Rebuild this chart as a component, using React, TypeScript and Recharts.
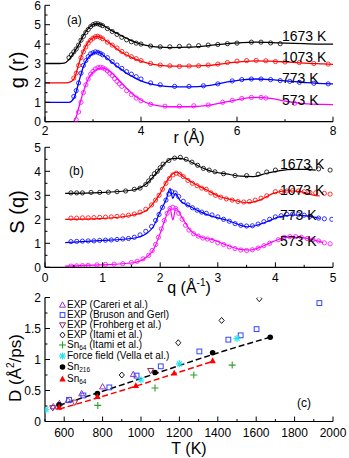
import React from 'react';
import { ComposedChart, Line, Scatter, XAxis, YAxis } from 'recharts';

type Pt = [number, number];

const FONT = '"Liberation Sans", Arial, Helvetica, sans-serif';
const BLACK = '#000000';
const RED = '#ff0000';
const BLUE = '#0000ff';
const MAGENTA = '#ff00ff';

// ---------- panel (a): g(r) ----------
const rLine = [2.0, 2.3, 2.4, 2.5, 2.6, 2.65, 2.7, 2.8, 2.9, 3.0, 3.1, 3.2, 3.3, 3.4, 3.5, 3.6, 3.7, 3.8, 4.0, 4.2, 4.4, 4.6, 5.0, 5.4, 5.8, 6.1, 6.4, 6.7, 7.0, 7.4, 7.8, 8.0];
const g1673 = [3.0, 3.0, 3.02, 3.2, 3.55, 3.75, 3.95, 4.45, 4.8, 5.0, 5.05, 4.98, 4.83, 4.68, 4.55, 4.42, 4.3, 4.18, 4.0, 3.9, 3.84, 3.82, 3.84, 3.92, 4.02, 4.08, 4.1, 4.08, 4.05, 4.02, 4.0, 4.0];
const g1073 = [2.0, 2.0, 2.0, 2.03, 2.2, 2.5, 2.95, 3.65, 4.1, 4.33, 4.4, 4.3, 4.12, 3.95, 3.75, 3.58, 3.44, 3.32, 3.12, 2.98, 2.9, 2.86, 2.86, 2.9, 3.02, 3.1, 3.14, 3.12, 3.08, 3.02, 2.98, 2.96];
const g773 = [1.0, 1.0, 1.0, 1.0, 1.2, 1.55, 2.0, 2.85, 3.3, 3.52, 3.6, 3.45, 3.25, 3.05, 2.85, 2.68, 2.5, 2.36, 2.1, 1.95, 1.86, 1.81, 1.79, 1.86, 2.05, 2.16, 2.2, 2.17, 2.1, 2.02, 1.96, 1.95];
const g573 = [null, null, null, null, 0.0, 0.25, 0.7, 1.55, 2.2, 2.55, 2.72, 2.77, 2.68, 2.5, 2.25, 1.98, 1.72, 1.48, 1.12, 0.9, 0.8, 0.77, 0.77, 0.84, 1.03, 1.18, 1.25, 1.2, 1.06, 0.93, 0.89, 0.88];

const gExp1673: Pt[] = [[2.5, 3.3], [2.55, 3.45], [2.6, 3.6], [2.65, 3.75], [2.7, 3.95], [2.75, 4.2], [2.8, 4.4], [2.85, 4.6], [2.9, 4.75], [2.95, 4.9], [3.0, 5.0], [3.05, 5.05], [3.1, 5.05], [3.15, 5.0], [3.2, 4.95], [3.3, 4.8], [3.4, 4.65], [3.5, 4.5], [3.6, 4.35], [3.7, 4.22], [3.8, 4.12], [3.9, 4.05], [4.0, 4.0], [4.2, 3.9], [4.4, 3.86], [4.6, 3.86], [4.8, 3.88], [5.0, 3.9], [5.2, 3.92], [5.4, 3.95], [5.6, 3.98], [5.8, 4.02], [6.0, 4.05], [6.3, 4.1], [6.5, 4.1], [6.7, 4.06], [6.9, 4.02]];
const gExp1073: Pt[] = [[2.6, 2.25], [2.65, 2.5], [2.7, 2.9], [2.75, 3.3], [2.8, 3.6], [2.85, 3.85], [2.9, 4.05], [2.95, 4.2], [3.0, 4.3], [3.05, 4.38], [3.1, 4.4], [3.15, 4.35], [3.2, 4.28], [3.3, 4.1], [3.4, 3.95], [3.5, 3.8], [3.6, 3.62], [3.7, 3.48], [3.8, 3.35], [3.9, 3.25], [4.0, 3.15], [4.2, 3.0], [4.4, 2.92], [4.6, 2.88], [4.8, 2.85], [5.0, 2.87], [5.2, 2.88], [5.4, 2.92], [5.6, 2.97], [5.8, 3.05], [6.0, 3.12], [6.2, 3.15], [6.4, 3.16], [6.6, 3.14], [6.8, 3.1], [7.0, 3.08], [7.3, 3.05], [7.6, 3.0], [7.9, 2.97]];
const gExp773: Pt[] = [[2.6, 1.3], [2.65, 1.6], [2.7, 2.0], [2.75, 2.5], [2.8, 2.9], [2.85, 3.15], [2.9, 3.35], [2.95, 3.5], [3.0, 3.55], [3.05, 3.6], [3.1, 3.58], [3.15, 3.52], [3.2, 3.45], [3.3, 3.3], [3.4, 3.1], [3.5, 2.92], [3.6, 2.75], [3.7, 2.58], [3.8, 2.45], [3.9, 2.32], [4.0, 2.2], [4.2, 2.0], [4.4, 1.9], [4.7, 1.82], [5.0, 1.82], [5.3, 1.85], [5.6, 1.95], [5.9, 2.1], [6.1, 2.17], [6.3, 2.2], [6.5, 2.2], [6.7, 2.17], [6.9, 2.12], [7.1, 2.08], [7.3, 2.03], [7.6, 1.98], [7.9, 1.95]];
const gExp573: Pt[] = [[2.65, 0.1], [2.7, 0.5], [2.75, 1.0], [2.8, 1.5], [2.85, 1.9], [2.9, 2.2], [2.95, 2.45], [3.0, 2.6], [3.05, 2.72], [3.1, 2.78], [3.15, 2.8], [3.2, 2.78], [3.25, 2.72], [3.3, 2.62], [3.35, 2.5], [3.4, 2.38], [3.45, 2.22], [3.5, 2.08], [3.55, 1.95], [3.6, 1.82], [3.7, 1.6], [3.8, 1.4], [3.9, 1.22], [4.0, 1.08], [4.2, 0.9], [4.5, 0.8], [4.8, 0.8], [5.1, 0.82], [5.4, 0.86], [5.7, 1.0], [5.9, 1.1], [6.1, 1.2], [6.3, 1.25], [6.5, 1.25], [6.6, 1.22], [7.2, 0.95]];

// ---------- panel (b): S(q) ----------
const sLine1673: Pt[] = [[0.35, 3.08], [0.95, 3.11], [1.53, 3.22], [1.77, 3.5], [1.88, 3.78], [2.0, 4.12], [2.11, 4.4], [2.23, 4.54], [2.34, 4.54], [2.46, 4.47], [2.69, 4.19], [2.92, 3.98], [3.15, 3.89], [3.39, 3.8], [3.62, 3.78], [3.85, 3.92], [4.08, 4.03], [4.31, 4.08], [4.54, 4.08], [4.7, 4.05]];
const sLine1073: Pt[] = [[0.35, 2.0], [0.95, 2.03], [1.53, 2.18], [1.77, 2.39], [1.88, 2.67], [2.0, 3.08], [2.11, 3.57], [2.23, 3.92], [2.29, 3.96], [2.4, 3.78], [2.58, 3.5], [2.81, 3.22], [3.04, 2.94], [3.27, 2.8], [3.5, 2.69], [3.73, 2.8], [3.96, 3.08], [4.2, 3.19], [4.43, 3.15], [4.66, 3.01], [4.77, 2.97]];
const sLine773: Pt[] = [[0.35, 1.03], [0.95, 1.11], [1.53, 1.21], [1.77, 1.42], [1.88, 1.69], [2.0, 2.32], [2.11, 2.87], [2.17, 3.29], [2.22, 2.87], [2.26, 3.08], [2.34, 2.8], [2.52, 2.53], [2.69, 2.32], [2.92, 2.11], [3.15, 1.97], [3.39, 1.76], [3.5, 1.69], [3.62, 1.72], [3.85, 1.9], [4.08, 2.11], [4.31, 2.18], [4.54, 2.14], [4.77, 2.04]];
const sLine573: Pt[] = [[0.35, 0.05], [0.95, 0.1], [1.53, 0.19], [1.77, 0.44], [1.88, 0.72], [2.0, 1.42], [2.08, 1.97], [2.17, 2.46], [2.22, 1.97], [2.27, 2.46], [2.37, 2.11], [2.52, 1.55], [2.69, 1.28], [2.92, 1.14], [3.15, 0.93], [3.39, 0.75], [3.56, 0.72], [3.73, 0.83], [3.96, 1.07], [4.2, 1.25], [4.43, 1.25], [4.66, 1.14], [4.83, 1.03]];

const sExp1673: Pt[] = [[0.45, 3.1], [0.55, 3.1], [0.65, 3.1], [0.8, 3.12], [0.95, 3.12], [1.1, 3.13], [1.25, 3.15], [1.4, 3.18], [1.55, 3.25], [1.65, 3.3], [1.75, 3.45], [1.8, 3.6], [1.85, 3.75], [1.9, 3.9], [1.95, 4.0], [2.0, 4.15], [2.05, 4.3], [2.15, 4.45], [2.25, 4.55], [2.35, 4.58], [2.45, 4.5], [2.55, 4.38], [2.65, 4.25], [2.75, 4.12], [2.85, 4.05], [2.95, 3.98], [3.1, 3.9], [3.3, 3.82], [3.5, 3.82], [3.7, 3.88], [3.85, 3.97], [4.0, 4.05], [4.6, 4.12], [4.75, 4.1], [4.95, 4.05]];
const sExp1073: Pt[] = [[0.45, 2.05], [0.55, 2.05], [0.65, 2.06], [0.75, 2.06], [0.85, 2.07], [0.95, 2.08], [1.05, 2.09], [1.15, 2.1], [1.25, 2.12], [1.35, 2.14], [1.45, 2.17], [1.55, 2.22], [1.65, 2.3], [1.75, 2.42], [1.85, 2.6], [1.92, 2.8], [1.98, 3.0], [2.04, 3.25], [2.1, 3.5], [2.16, 3.7], [2.22, 3.85], [2.28, 3.92], [2.34, 3.88], [2.4, 3.78], [2.48, 3.62], [2.56, 3.5], [2.64, 3.4], [2.72, 3.3], [2.8, 3.25], [2.88, 3.1], [2.96, 3.0], [3.05, 2.92], [3.15, 2.85], [3.25, 2.8], [3.35, 2.74], [3.45, 2.72], [3.55, 2.74], [3.65, 2.8], [3.75, 2.88], [3.85, 2.98], [4.0, 3.15], [4.1, 3.15], [4.2, 3.18], [4.3, 3.2], [4.4, 3.18], [4.5, 3.15], [4.6, 3.12], [4.7, 3.1], [4.85, 3.08], [4.95, 3.05]];
const sExp773: Pt[] = [[0.45, 1.07], [0.55, 1.08], [0.65, 1.09], [0.75, 1.1], [0.85, 1.1], [0.95, 1.12], [1.05, 1.13], [1.15, 1.14], [1.25, 1.16], [1.35, 1.18], [1.45, 1.2], [1.55, 1.25], [1.65, 1.35], [1.75, 1.5], [1.85, 1.7], [1.92, 1.95], [1.98, 2.2], [2.04, 2.5], [2.1, 2.8], [2.15, 3.05], [2.2, 3.15], [2.26, 3.1], [2.32, 2.95], [2.4, 2.75], [2.48, 2.6], [2.56, 2.48], [2.64, 2.38], [2.72, 2.3], [2.8, 2.25], [2.9, 2.18], [3.0, 2.1], [3.1, 2.0], [3.2, 1.92], [3.3, 1.82], [3.4, 1.75], [3.5, 1.72], [3.6, 1.73], [3.7, 1.8], [3.8, 1.9], [3.9, 2.0], [4.0, 2.1], [4.1, 2.15], [4.2, 2.2], [4.3, 2.22], [4.4, 2.2], [4.5, 2.17], [4.6, 2.12], [4.75, 2.05], [4.85, 2.02], [4.98, 2.0]];
const sExp573: Pt[] = [[0.45, 0.05], [0.55, 0.06], [0.65, 0.07], [0.75, 0.08], [0.9, 0.1], [1.05, 0.12], [1.2, 0.13], [1.35, 0.15], [1.5, 0.2], [1.6, 0.25], [1.7, 0.35], [1.8, 0.5], [1.86, 0.7], [1.92, 0.95], [1.97, 1.25], [2.02, 1.6], [2.07, 1.95], [2.12, 2.25], [2.17, 2.45], [2.22, 2.5], [2.27, 2.45], [2.32, 2.25], [2.38, 2.0], [2.44, 1.75], [2.5, 1.55], [2.58, 1.4], [2.66, 1.3], [2.74, 1.22], [2.82, 1.18], [2.9, 1.12], [3.0, 1.02], [3.1, 0.95], [3.2, 0.85], [3.3, 0.78], [3.4, 0.72], [3.5, 0.7], [3.6, 0.73], [3.7, 0.8], [3.8, 0.9], [3.9, 1.0], [4.05, 1.15], [4.15, 1.25], [4.25, 1.28], [4.35, 1.28], [4.45, 1.25], [4.55, 1.2], [4.65, 1.15], [4.75, 1.1], [4.85, 1.02], [4.95, 0.98]];

// ---------- panel (c): D(T) ----------
const careri: Pt[] = [[543, 0.24], [575, 0.29], [620, 0.34], [691, 0.45], [800, 0.56], [960, 0.76]];
const bruson: Pt[] = [[625, 0.35], [700, 0.42], [835, 0.55], [977, 0.74], [1103, 0.89], [1304, 1.13], [1455, 1.32], [1519, 1.39], [1602, 1.49], [1929, 1.91]];
const frohberg: Pt[] = [[540, 0.22], [655, 0.31], [1050, 0.82]];
const itamiExp: Pt[] = [[900, 0.75], [1194, 1.27], [1420, 1.63], [1616, 1.98]];
const sn64Itami: Pt[] = [[775, 0.26], [1073, 0.54], [1275, 0.75], [1475, 0.91]];
const forceField: Pt[] = [[505, 0.19], [1000, 0.67], [1200, 0.93], [1500, 1.34]];
const sn216: Pt[] = [[573, 0.27], [773, 0.45], [1073, 0.79], [1373, 1.11], [1673, 1.36]];
const sn64: Pt[] = [[573, 0.23], [773, 0.4], [973, 0.58], [1173, 0.78], [1373, 0.98]];
const sn216Fit: Pt[] = [[573, 0.26], [773, 0.46], [1073, 0.77], [1373, 1.08], [1673, 1.36]];
const sn64Fit: Pt[] = [[573, 0.2], [773, 0.38], [973, 0.57], [1173, 0.77], [1373, 0.97]];

const ticksA_x = [2, 3, 4, 5, 6, 7, 8];
const labelsA_x = [2, 4, 6, 8];
const ticksA_y = [0, 0.5, 1, 1.5, 2, 2.5, 3, 3.5, 4, 4.5, 5, 5.5, 6];
const labelsA_y = [0, 1, 2, 3, 4, 5, 6];
const ticksB_x = [0, 0.5, 1, 1.5, 2, 2.5, 3, 3.5, 4, 4.5, 5];
const labelsB_x = [0, 1, 2, 3, 4, 5];
const ticksB_y = [0, 0.5, 1, 1.5, 2, 2.5, 3, 3.5, 4, 4.5, 5];
const labelsB_y = [0, 1, 2, 3, 4, 5];
const ticksC_x = [500, 600, 700, 800, 900, 1000, 1100, 1200, 1300, 1400, 1500, 1600, 1700, 1800, 1900, 2000];
const labelsC_x = [600, 800, 1000, 1200, 1400, 1600, 1800, 2000];
const ticksC_y = [0, 0.25, 0.5, 0.75, 1, 1.25, 1.5, 1.75, 2];
const labelsC_y = [0, 0.5, 1, 1.5, 2];

const rows = (pts: Pt[]) => pts.map(([x, y]) => ({ x, y }));
const zipRows = (xs: number[], ys: (number | null)[]) => xs.map((x, i) => ({ x, y: ys[i] }));
const has = (list: number[], v: number) => list.some((l) => Math.abs(l - v) < 1e-9);

type Side = 'bottom' | 'top' | 'left' | 'right';
const makeTick = (side: Side, labels: number[], showText: boolean, gap = 14) => (props: any) => {
  const { x, y, payload } = props;
  const v = payload.value as number;
  const major = has(labels, v);
  const len = major ? 5 : 2.5;
  let line;
  if (side === 'bottom') line = <line x1={x} x2={x} y1={y} y2={y - len} />;
  else if (side === 'top') line = <line x1={x} x2={x} y1={y} y2={y + len} />;
  else if (side === 'left') line = <line x1={x} x2={x + len} y1={y} y2={y} />;
  else line = <line x1={x} x2={x - len} y1={y} y2={y} />;
  return (
    <g stroke={BLACK} strokeWidth={1}>
      {line}
      {showText && major && side === 'bottom' && (
        <text x={x} y={y + gap} textAnchor="middle" fontSize={12} fontFamily={FONT} fill={BLACK} stroke="none">
          {String(v)}
        </text>
      )}
      {showText && major && side === 'left' && (
        <text x={x - 4} y={y + 4.5} textAnchor="end" fontSize={12} fontFamily={FONT} fill={BLACK} stroke="none">
          {String(v)}
        </text>
      )}
    </g>
  );
};

const openCircle = (color: string) => (p: any) => (
  <circle cx={p.cx} cy={p.cy} r={2.1} fill="none" stroke={color} strokeWidth={0.8} />
);

const markerSvg = (kind: string, color: string, cx: number, cy: number) => {
  switch (kind) {
    case 'triUp':
      return <polygon points={`${cx},${cy - 3.2} ${cx - 3},${cy + 2.2} ${cx + 3},${cy + 2.2}`} fill="none" stroke={color} strokeWidth={1} />;
    case 'triDown':
      return <polygon points={`${cx},${cy + 3.2} ${cx - 3},${cy - 2.2} ${cx + 3},${cy - 2.2}`} fill="none" stroke={color} strokeWidth={1} />;
    case 'square':
      return <rect x={cx - 2.4} y={cy - 2.4} width={4.8} height={4.8} fill="none" stroke={color} strokeWidth={1} />;
    case 'diamond':
      return <polygon points={`${cx},${cy - 3} ${cx + 2.6},${cy} ${cx},${cy + 3} ${cx - 2.6},${cy}`} fill="none" stroke={color} strokeWidth={0.9} />;
    case 'plus':
      return (
        <g stroke={color} strokeWidth={1.1}>
          <line x1={cx - 3.5} x2={cx + 3.5} y1={cy} y2={cy} />
          <line x1={cx} x2={cx} y1={cy - 3.5} y2={cy + 3.5} />
        </g>
      );
    case 'star':
      return (
        <g stroke={color} strokeWidth={1.1}>
          <line x1={cx - 3.5} x2={cx + 3.5} y1={cy} y2={cy} />
          <line x1={cx} x2={cx} y1={cy - 3.5} y2={cy + 3.5} />
          <line x1={cx - 2.5} x2={cx + 2.5} y1={cy - 2.5} y2={cy + 2.5} />
          <line x1={cx - 2.5} x2={cx + 2.5} y1={cy + 2.5} y2={cy - 2.5} />
        </g>
      );
    case 'dot':
      return <circle cx={cx} cy={cy} r={2.8} fill={color} />;
    case 'triFill':
      return <polygon points={`${cx},${cy - 3.4} ${cx - 3.2},${cy + 2.4} ${cx + 3.2},${cy + 2.4}`} fill={color} />;
    default:
      return null;
  }
};

const shapeOf = (kind: string, color: string) => (p: any) => markerSvg(kind, color, p.cx, p.cy);

const legendItems = [
  { label: 'EXP (Careri et al.)', kind: 'triUp', color: '#9933cc', data: careri, cy: 305 },
  { label: 'EXP (Bruson and Gerl)', kind: 'square', color: '#3344ff', data: bruson, cy: 315 },
  { label: 'EXP (Frohberg et al.)', kind: 'triDown', color: '#8b2a5a', data: frohberg, cy: 325 },
  { label: 'EXP (Itami et al.)', kind: 'diamond', color: '#000000', data: itamiExp, cy: 335 },
  { label: 'Sn|64| (Itami et al.)', kind: 'plus', color: '#2ca02c', data: sn64Itami, cy: 345 },
  { label: 'Force field (Vella et al.)', kind: 'star', color: '#22e4f0', data: forceField, cy: 356 },
  { label: 'Sn|216|', kind: 'dot', color: '#000000', data: sn216, cy: 367 },
  { label: 'Sn|64|', kind: 'triFill', color: '#ff0000', data: sn64, cy: 379 },
];

interface PanelProps {
  top: number;
  height: number;
  marginTop: number;
  xAxisHeight: number;
  labelGap: number;
  xDomain: [number, number];
  xTicks: number[];
  xLabels: number[];
  yDomain: [number, number];
  yTicks: number[];
  yLabels: number[];
  children: React.ReactNode;
}

const Panel = (p: PanelProps) => (
  <div style={{ position: 'absolute', left: 0, top: p.top }}>
    <ComposedChart width={349} height={p.height} margin={{ top: p.marginTop, right: 16, bottom: 0, left: 0 }}>
      <XAxis
        xAxisId={0}
        dataKey="x"
        type="number"
        domain={p.xDomain}
        ticks={p.xTicks}
        interval={0}
        allowDataOverflow
        height={p.xAxisHeight}
        tickSize={0}
        tickMargin={0}
        tickLine={false}
        axisLine={{ stroke: BLACK, strokeWidth: 1.2 }}
        tick={makeTick('bottom', p.xLabels, true, p.labelGap)}
      />
      <XAxis
        xAxisId="top"
        orientation="top"
        type="number"
        domain={p.xDomain}
        ticks={p.xTicks}
        interval={0}
        allowDataOverflow
        height={0}
        tickSize={0}
        tickMargin={0}
        tickLine={false}
        axisLine={{ stroke: BLACK, strokeWidth: 1.2 }}
        tick={makeTick('top', p.xLabels, false)}
      />
      <YAxis
        yAxisId={0}
        dataKey="y"
        type="number"
        domain={p.yDomain}
        ticks={p.yTicks}
        interval={0}
        allowDataOverflow
        width={45}
        tickSize={0}
        tickMargin={0}
        tickLine={false}
        axisLine={{ stroke: BLACK, strokeWidth: 1.2 }}
        tick={makeTick('left', p.yLabels, true)}
      />
      <YAxis
        yAxisId="r"
        orientation="right"
        type="number"
        domain={p.yDomain}
        ticks={p.yTicks}
        interval={0}
        allowDataOverflow
        width={0}
        tickSize={0}
        tickMargin={0}
        tickLine={false}
        axisLine={{ stroke: BLACK, strokeWidth: 1.2 }}
        tick={makeTick('right', p.yLabels, false)}
      />
      {p.children}
    </ComposedChart>
  </div>
);

const lineOf = (data: any[], color: string, key: string, dash?: string, width = 1.3) => (
  <Line
    key={key}
    data={data}
    dataKey="y"
    type="monotone"
    stroke={color}
    strokeWidth={width}
    strokeDasharray={dash}
    dot={false}
    activeDot={false}
    isAnimationActive={false}
  />
);

const scatterOf = (data: Pt[], shape: any, key: string) => (
  <Scatter key={key} data={rows(data)} dataKey="y" shape={shape} isAnimationActive={false} />
);

const Txt = ({ x, y, size, children, rotate, anchor = 'left' }: any) => (
  <div
    style={{
      position: 'absolute',
      left: x,
      top: y,
      fontSize: size,
      fontFamily: FONT,
      lineHeight: 1,
      whiteSpace: 'nowrap',
      color: BLACK,
      transform: rotate
        ? 'translate(-50%, -50%) rotate(-90deg)'
        : anchor === 'center'
        ? 'translate(-50%, -50%)'
        : 'translate(0, -50%)',
    }}
  >
    {children}
  </div>
);

const subLabel = (s: string) => {
  const parts = s.split('|');
  if (parts.length < 3) return s;
  return (
    <>
      {parts[0]}
      <sub style={{ fontSize: 6.5, lineHeight: 0, verticalAlign: 'baseline', position: 'relative', top: 1.5 }}>{parts[1]}</sub>
      {parts[2]}
    </>
  );
};

export default function App() {
  const aSeries = [
    [g1673, gExp1673, BLACK],
    [g1073, gExp1073, RED],
    [g773, gExp773, BLUE],
    [g573, gExp573, MAGENTA],
  ] as const;
  const bSeries = [
    [sLine1673, sExp1673, BLACK],
    [sLine1073, sExp1073, RED],
    [sLine773, sExp773, BLUE],
    [sLine573, sExp573, MAGENTA],
  ] as const;

  return (
    <div style={{ position: 'absolute', left: 0, top: 0, width: 349, height: 458, background: '#fff', overflow: 'hidden' }}>
      <Panel
        top={0}
        height={142}
        marginTop={5.3}
        xAxisHeight={20.3}
        labelGap={13.5}
        xDomain={[2, 8]}
        xTicks={ticksA_x}
        xLabels={labelsA_x}
        yDomain={[0, 6]}
        yTicks={ticksA_y}
        yLabels={labelsA_y}
      >
        {aSeries.map(([g, _e, c], i) => lineOf(zipRows(rLine, g as (number | null)[]), c, `al${i}`))}
        {aSeries.map(([_g, e, c], i) => scatterOf(e as Pt[], openCircle(c), `as${i}`))}
      </Panel>

      <Panel
        top={142}
        height={150}
        marginTop={5.3}
        xAxisHeight={24.7}
        labelGap={14.5}
        xDomain={[0, 5]}
        xTicks={ticksB_x}
        xLabels={labelsB_x}
        yDomain={[0, 5]}
        yTicks={ticksB_y}
        yLabels={labelsB_y}
      >
        {bSeries.map(([l, _e, c], i) => lineOf(rows(l as Pt[]), c, `bl${i}`, undefined, 1.2))}
        {bSeries.map(([_l, e, c], i) => scatterOf(e as Pt[], openCircle(c), `bs${i}`))}
      </Panel>

      <Panel
        top={292}
        height={166}
        marginTop={5.5}
        xAxisHeight={36.5}
        labelGap={15}
        xDomain={[500, 2000]}
        xTicks={ticksC_x}
        xLabels={labelsC_x}
        yDomain={[0, 2]}
        yTicks={ticksC_y}
        yLabels={labelsC_y}
      >
        {lineOf(rows(sn216Fit), BLACK, 'fit216', '6 3', 1.5)}
        {lineOf(rows(sn64Fit), RED, 'fit64', '6 3', 1.5)}
        {legendItems.map((it, i) => scatterOf(it.data, shapeOf(it.kind, it.color), `cs${i}`))}
      </Panel>

      {/* panel letters */}
      <Txt x={67} y={20} size={12}>(a)</Txt>
      <Txt x={69} y={171} size={12}>(b)</Txt>
      <Txt x={297} y={403} size={12}>(c)</Txt>

      {/* temperature labels */}
      <Txt x={282} y={36} size={14}>1673 K</Txt>
      <Txt x={282} y={57} size={14}>1073 K</Txt>
      <Txt x={282} y={78} size={14}>773 K</Txt>
      <Txt x={282} y={100} size={14}>573 K</Txt>
      <Txt x={280} y={164} size={14}>1673 K</Txt>
      <Txt x={280} y={190} size={14}>1073 K</Txt>
      <Txt x={280} y={215} size={14}>773 K</Txt>
      <Txt x={280} y={241} size={14}>573 K</Txt>

      {/* axis titles */}
      <Txt x={189} y={138} size={16} anchor="center">r (Å)</Txt>
      <Txt x={189} y={288} size={16} anchor="center">
        q (Å<sup style={{ fontSize: 10, lineHeight: 0, verticalAlign: 'baseline', position: 'relative', top: -7 }}>-1</sup>)
      </Txt>
      <Txt x={189} y={449} size={16} anchor="center">T (K)</Txt>
      <Txt x={17} y={70} size={20} rotate>g (r)</Txt>
      <Txt x={17} y={212} size={20} rotate>S (q)</Txt>
      <Txt x={15} y={368} size={17} rotate>
        D (Å<sup style={{ fontSize: 10, lineHeight: 0, verticalAlign: 'baseline', position: 'relative', top: -7 }}>2</sup>/ps)
      </Txt>

      {/* legend (c) */}
      {legendItems.map((it) => (
        <div key={it.label} style={{ position: 'absolute', left: 58, top: it.cy - 5, height: 10, display: 'flex', alignItems: 'center' }}>
          <svg width={9} height={10} style={{ overflow: 'visible' }}>
            {markerSvg(it.kind, it.color, 4.5, 5)}
          </svg>
          <span style={{ fontFamily: FONT, fontSize: 10, lineHeight: '10px', whiteSpace: 'nowrap' }}>
            {subLabel(it.label)}
          </span>
        </div>
      ))}
    </div>
  );
}
